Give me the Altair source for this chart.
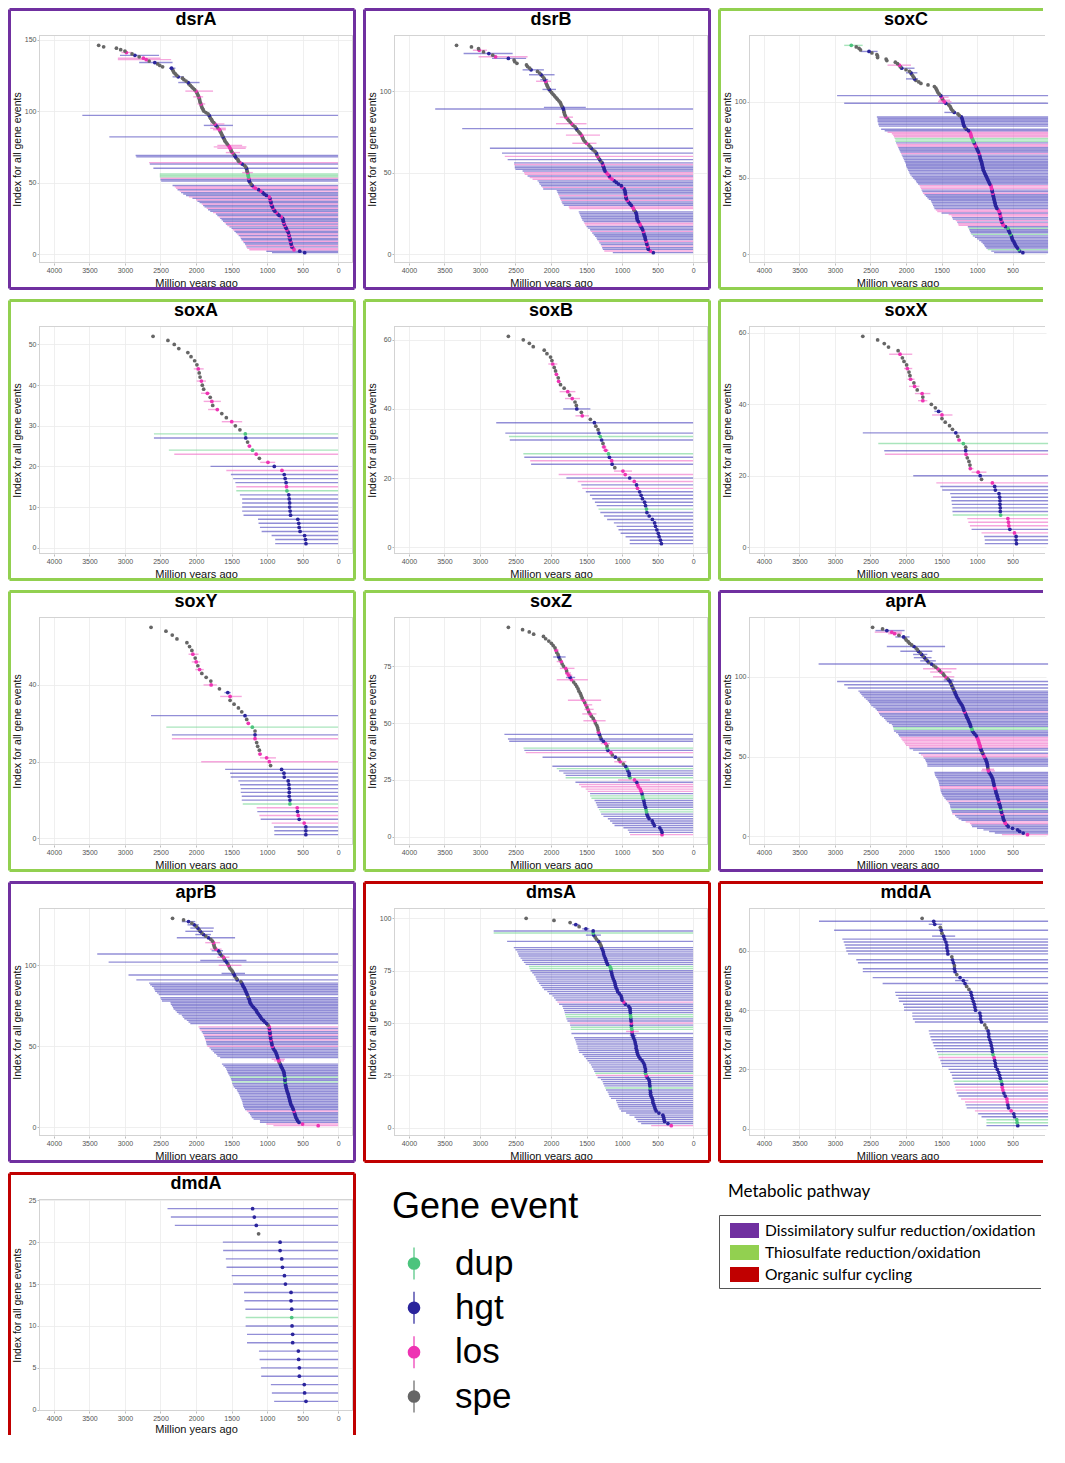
import altair as alt
import pandas as pd

FONT = "Liberation Sans"
EVENTS = ["dup", "hgt", "los", "spe"]
KIND = {"d": "dup", "h": "hgt", "l": "los", "s": "spe"}
POINT_COLORS = ["#4cc47d", "#2a249c", "#ee33b3", "#666666"]
BAR_COLORS = ["#70d48f", "#4a43bd", "#f06ac6", "#888888"]

PATHWAYS = ["Dissimilatory sulfur reduction/oxidation",
            "Thiosulfate reduction/oxidation",
            "Organic sulfur cycling"]
PATHWAY_COLORS = ["#7030a0", "#92d050", "#c00000"]

GENES = ["dsrA", "dsrB", "soxC", "soxA", "soxB", "soxX", "soxY",
         "soxZ", "aprA", "aprB", "dmsA", "mddA", "dmdA"]
GENE_PATHWAY = [0, 0, 1, 1, 1, 1, 1, 1, 0, 0, 2, 2, 2]
Y_TICKS = {"dsrA": [0, 50, 100, 150], "dsrB": [0, 50, 100], "soxC": [0, 50, 100],
           "soxA": [0, 10, 20, 30, 40, 50], "soxB": [0, 20, 40, 60], "soxX": [0, 20, 40, 60],
           "soxY": [0, 20, 40], "soxZ": [0, 25, 50, 75], "aprA": [0, 50, 100],
           "aprB": [0, 50, 100], "dmsA": [0, 25, 50, 75, 100], "mddA": [0, 20, 40, 60],
           "dmdA": [0, 5, 10, 15, 20, 25]}
X_TICKS = [0, 500, 1000, 1500, 2000, 2500, 3000, 3500, 4000]

# ---- per gene: point age (Myr), event kind, interval old bound, interval young bound (default 0)
dsrA_age = [470, 540, 620, 630, 650, 655, 660, 665, 670, 675,
            680, 685, 690, 695, 700, 710, 720, 730, 740, 750,
            760, 765, 770, 775, 780, 800, 830, 850, 870, 890,
            905, 915, 925, 935, 940, 945, 950, 955, 960, 970,
            1010, 1040, 1060, 1090, 1120, 1160, 1190, 1210, 1225, 1240,
            1250, 1255, 1258, 1262, 1265, 1268, 1275, 1280, 1285, 1290,
            1300, 1320, 1350, 1380, 1400, 1410, 1430, 1445, 1455, 1470,
            1490, 1500, 1510, 1520, 1530, 1545, 1560, 1575, 1590, 1600,
            1610, 1620, 1630, 1640, 1650, 1660, 1670, 1690, 1700, 1720,
            1735, 1750, 1770, 1780, 1795, 1805, 1815, 1830, 1860, 1890,
            1900, 1910, 1920, 1925, 1930, 1940, 1946, 1950, 1955, 1960,
            1970, 1980, 1990, 2000, 2020, 2040, 2060, 2080, 2100, 2110,
            2140, 2170, 2190, 2250, 2270, 2290, 2310, 2320, 2330, 2344,
            2470, 2510, 2540, 2580, 2660, 2700, 2740, 2800, 2860, 2900,
            2980, 3000, 3060, 3120, 3300, 3370]
dsrA_kind = ("hhllhlhhlh" "hlhlhhlhhl" "hlhhhlhhlh" "hlhhlhhlhl" "hhhlhllhss"
             "hhldddlssh" "sshlssshhs" "lsslllssss" "shssssllsh" "lssssshsss"
             "sssslssssl" "ssslsssssh" "ssshsssssh" "ssshsllshs" "lsssss")
dsrA_lo = [930, 1010, 1250, 1280, 1290, 1300, 1310, 1330, 1340, 1360,
           1370, 1380, 1400, 1420, 1440, 1460, 1480, 1500, 1530, 1560,
           1580, 1600, 1620, 1640, 1660, 1680, 1700, 1720, 1760, 1800,
           1830, 1850, 1880, 1900, 1920, 1950, 1980, 2000, 2050, 2100,
           2140, 2180, 2210, 2230, 2260, 2280, 2300, 2330, 0, 0,
           2490, 2500, 2500, 2510, 2510, 2510, 1350, 0, 0, 2600,
           0, 0, 2650, 2660, 0, 0, 0, 2840, 2850, 0,
           1580, 0, 0, 1700, 1750, 1700, 0, 0, 0, 0,
           0, 3220, 0, 0, 0, 0, 1760, 1800, 0, 1890,
           1800, 0, 0, 0, 0, 0, 3600, 0, 0, 0,
           0, 0, 0, 0, 1980, 0, 0, 0, 0, 2040,
           0, 0, 0, 2150, 0, 0, 0, 0, 0, 2250,
           0, 0, 0, 2330, 0, 0, 0, 0, 0, 2380,
           0, 0, 0, 2800, 0, 3100, 3100, 0, 3070, 0,
           3050, 0, 0, 0, 0, 0]
dsrA_hi = {57: 1200, 71: 1380, 74: 1300, 75: 1290, 76: 1350, 87: 1580, 88: 1580, 90: 1480,
           91: 1600, 105: 1870, 110: 1900, 114: 1760, 120: 1950, 124: 2170, 130: 2290,
           134: 2330, 136: 2350, 137: 2500, 139: 2520, 141: 2900}

dsrB_age = [560, 600, 630, 635, 640, 650, 655, 660, 670, 675,
            680, 690, 695, 700, 710, 720, 735, 745, 755, 770,
            785, 790, 792, 795, 800, 810, 830, 840, 850, 870,
            890, 910, 925, 940, 945, 950, 952, 955, 960, 970,
            1000, 1010, 1050, 1080, 1110, 1140, 1170, 1180, 1200, 1220,
            1240, 1250, 1255, 1265, 1270, 1280, 1300, 1315, 1330, 1345,
            1355, 1362, 1380, 1410, 1433, 1450, 1470, 1500, 1520, 1540,
            1550, 1560, 1570, 1590, 1610, 1630, 1645, 1660, 1690, 1710,
            1730, 1750, 1770, 1790, 1800, 1810, 1815, 1820, 1825, 1835,
            1850, 1860, 1870, 1890, 1910, 1930, 1950, 1970, 1990, 2010,
            2025, 2040, 2050, 2060, 2070, 2075, 2090, 2100, 2120, 2140,
            2160, 2190, 2280, 2300, 2330, 2345, 2480, 2510, 2520, 2600,
            2780, 2820, 2875, 2950, 3010, 3020, 3120, 3330]
dsrB_kind = ("hlhhlhhlhh" "hhhlhhhllh" "hhhhhhsllh" "hhlhhlhhhh" "lhhhhllhll"
             "hhhhlhshsl" "shsshsslss" "sslssshssl" "ssslsssshh" "ssssssssss"
             "hsssslhssh" "sshssssssh" "lshslsss")
dsrB_lo = [1130, 1250, 1270, 1280, 1290, 1300, 1320, 1330, 1350, 1360,
           1380, 1400, 1420, 1440, 1450, 1480, 1500, 1520, 1530, 1540,
           1560, 1570, 1580, 1590, 1600, 1610, 0, 1740, 1750, 1820,
           1840, 1850, 1860, 1870, 1880, 1890, 1900, 1910, 1920, 2110,
           2120, 2140, 2160, 2170, 2190, 2260, 2300, 2330, 2370, 2380,
           2400, 2500, 2510, 2510, 2520, 2520, 0, 2610, 0, 2650,
           0, 2690, 0, 0, 2860, 0, 0, 1700, 0, 0,
           0, 0, 1790, 0, 0, 0, 3250, 0, 0, 1930,
           0, 0, 0, 1880, 0, 0, 0, 0, 3630, 2100,
           0, 0, 0, 0, 0, 0, 0, 0, 0, 0,
           2120, 0, 0, 0, 0, 2210, 2150, 0, 0, 2310,
           0, 0, 2400, 0, 0, 0, 0, 0, 0, 2830,
           3020, 0, 3230, 0, 3100, 0, 0, 0]
dsrB_hi = {68: 1360, 73: 1310, 80: 1500, 84: 1690, 90: 1510, 101: 1930, 106: 2000, 107: 2040,
           110: 1950, 113: 2100, 120: 2350, 121: 2330, 123: 2540, 125: 2900}

soxC_age = [355, 400, 414, 430, 447, 460, 470, 480, 495, 505,
            510, 518, 530, 540, 550, 560, 565, 600, 630, 640,
            650, 660, 665, 668, 670, 675, 680, 690, 700, 720,
            730, 740, 745, 750, 755, 760, 765, 770, 775, 780,
            785, 790, 795, 800, 805, 820, 830, 840, 850, 860,
            870, 880, 890, 900, 910, 915, 920, 925, 930, 935,
            940, 950, 955, 960, 965, 970, 980, 990, 1000, 1010,
            1020, 1030, 1040, 1050, 1060, 1070, 1080, 1085, 1090, 1100,
            1120, 1150, 1170, 1180, 1190, 1195, 1200, 1205, 1210, 1220,
            1250, 1270, 1320, 1340, 1360, 1370, 1380, 1400, 1440, 1460,
            1475, 1490, 1500, 1510, 1530, 1550, 1560, 1570, 1580, 1600,
            1690, 1790, 1820, 1860, 1880, 1890, 1905, 1920, 1930, 1950,
            2000, 2060, 2080, 2094, 2120, 2150, 2270, 2280, 2400, 2400,
            2410, 2480, 2520, 2640, 2660, 2700, 2770]
soxC_kind = ("hhdhhhhhhh" "hhdhhhdhll" "hlhhllhllh" "hhhhhhhhhl" "hhlllhhhhh"
             "hhhhhhhhhh" "hhhhhlhhhh" "llhdddllll" "hhshhhhhhh" "sshssssshl"
             "lslhssssss" "sssshssshs" "shslssssss" "sshsssd")
soxC_lo = [760, 800, 850, 870, 890, 900, 920, 940, 970, 1000,
           1030, 1060, 1080, 1090, 1100, 1110, 1120, 1130, 1260, 1270,
           1280, 1300, 1340, 1350, 1360, 1400, 1500, 1560, 1580, 1600,
           1610, 1620, 1630, 1640, 1650, 1680, 1700, 1720, 1740, 1760,
           1770, 1780, 1790, 1800, 1810, 1830, 1850, 1860, 1880, 1900,
           1920, 1940, 1950, 1960, 1970, 1980, 1990, 2000, 2000, 2010,
           2020, 2030, 2040, 2050, 2060, 2070, 2080, 2090, 2100, 2110,
           2120, 2130, 2140, 2150, 2150, 2160, 2170, 2180, 2200, 2260,
           2300, 2350, 0, 2380, 2390, 2390, 2400, 2400, 2400, 2410,
           0, 0, 1460, 0, 0, 0, 0, 0, 2870, 1550,
           1540, 0, 1530, 2970, 0, 0, 0, 0, 0, 0,
           0, 0, 0, 0, 2000, 0, 0, 0, 2000, 0,
           0, 2070, 0, 2260, 0, 0, 0, 0, 0, 0,
           0, 0, 2640, 0, 0, 0, 2870]
soxC_hi = {93: 1290, 100: 1360, 101: 1380, 103: 1400, 115: 1830, 119: 1840, 122: 1880,
           124: 1930, 133: 2400, 137: 2610}

soxA_age = [452, 458, 471, 535, 548, 554, 567, 669, 675, 682,
            682, 688, 694, 720, 726, 732, 745, 758, 790, 898,
            987, 1108, 1153, 1204, 1248, 1274, 1300, 1306, 1382, 1446,
            1497, 1573, 1637, 1700, 1765, 1777, 1800, 1840, 1892, 1911,
            1924, 1943, 1955, 1968, 1987, 2019, 2070, 2115, 2242, 2306,
            2395, 2605]
soxA_kind = "hhhhhhhhhh" "hhhdlhhhlh" "lsldlshdss" "lsslslslss" "lssl" "ssssssss"
soxA_lo = [885, 885, 936, 1076, 1100, 1120, 1127, 1331, 1350, 1350,
           1350, 1350, 1382, 1433, 1433, 1446, 1477, 1509, 1573, 1796,
           1096, 0, 2306, 2382, 1280, 0, 2592, 2592, 0, 0,
           1637, 0, 0, 1830, 0, 1892, 0, 1930, 0, 0,
           1990, 0, 0, 2032, 0, 0, 0, 0, 0, 0,
           0, 0]
soxA_hi = {21: 885, 25: 1220, 31: 1350, 34: 1680, 36: 1650, 38: 1800, 41: 1860, 44: 1892}

soxB_age = [446, 459, 478, 490, 510, 529, 541, 573, 618, 650,
            656, 669, 682, 713, 732, 752, 783, 796, 828, 892,
            955, 987, 1102, 1140, 1146, 1178, 1191, 1229, 1255, 1268,
            1287, 1306, 1325, 1338, 1369, 1389, 1446, 1560, 1573, 1637,
            1643, 1662, 1701, 1739, 1764, 1815, 1866, 1892, 1898, 1924,
            1936, 1955, 1975, 1987, 2006, 2057, 2095, 2250, 2305, 2390,
            2600]
soxB_kind = "hhhhhhhhhh" "dhhhhhlhlh" "llshlhdlls" "hdhsshslsh" "sslslsslsl" "sslssssssss"
soxB_lo = [892, 892, 950, 1020, 1050, 1076, 1115, 1210, 1255, 1306,
           1331, 1357, 1382, 1420, 1452, 1510, 1560, 1573, 1624, 1783,
           1892, 1114, 0, 2280, 2293, 2376, 2389, 1270, 1290, 0,
           2580, 2592, 2643, 0, 0, 2771, 0, 1656, 0, 1828,
           0, 0, 1803, 0, 1879, 0, 0, 1910, 0, 1940,
           0, 0, 2038, 0, 0, 0, 0, 0, 0, 0,
           0]
soxB_hi = {22: 860, 28: 1190, 29: 1220, 38: 1465, 40: 1446, 43: 1592, 45: 1656, 48: 1870,
           50: 1900, 53: 1911}

soxX_age = [445, 450, 450, 473, 538, 552, 557, 566, 668, 673,
            673, 677, 677, 682, 691, 742, 752, 784, 937, 956,
            984, 1095, 1100, 1114, 1137, 1155, 1160, 1160, 1193, 1253,
            1271, 1299, 1346, 1387, 1448, 1494, 1494, 1541, 1587, 1643,
            1763, 1763, 1773, 1842, 1879, 1889, 1935, 1944, 1958, 1981,
            1991, 2028, 2051, 2084, 2111, 2246, 2306, 2399, 2608]
soxX_kind = "hhhlhllldh" "hhhhhhhlsh" "llssslhsdl" "shsssslhss" "lslslslssl" "ssslsssss"
soxX_lo = [891, 891, 900, 937, 1077, 1100, 1123, 1137, 1341, 1346,
           1346, 1355, 1360, 1364, 1378, 1490, 1517, 1573, 0, 1898,
           1077, 1110, 0, 0, 0, 2297, 2306, 0, 2390, 1280,
           0, 2608, 0, 0, 0, 0, 1633, 1600, 0, 0,
           1830, 0, 1875, 0, 1958, 0, 1980, 0, 0, 2028,
           0, 0, 0, 2237, 0, 0, 0, 0, 0]
soxX_hi = {21: 868, 22: 1050, 30: 1230, 37: 1346, 38: 1490, 41: 1700, 43: 1657, 45: 1810,
           47: 1880, 50: 1912, 54: 1912}

soxY_age = [454, 454, 454, 477, 547, 561, 571, 575, 678, 678,
            688, 688, 688, 692, 702, 758, 762, 795, 950, 968,
            1006, 1099, 1108, 1132, 1146, 1169, 1169, 1169, 1207, 1263,
            1286, 1310, 1356, 1403, 1464, 1520, 1520, 1553, 1670, 1787,
            1791, 1857, 1918, 1950, 1974, 1997, 2011, 2044, 2058, 2091,
            2128, 2268, 2334, 2423, 2633]
soxY_kind = "hhhlhlhldh" "hhhhhhhhsl" "llssslhsdl" "shsssslhsl" "ssslslslss" "sssss"
soxY_lo = [898, 898, 903, 935, 1090, 1108, 1137, 1146, 1342, 1356,
           1356, 1370, 1370, 1380, 1403, 1511, 1520, 1590, 0, 1927,
           1099, 1130, 0, 0, 0, 2339, 2339, 0, 2418, 1290,
           0, 2633, 0, 0, 0, 0, 1660, 1600, 0, 1894,
           0, 0, 0, 2010, 0, 2060, 0, 2105, 0, 0,
           0, 0, 0, 0, 0]
soxY_hi = {21: 875, 22: 1070, 30: 1240, 37: 1356, 38: 1510, 40: 1707, 44: 1890, 46: 1940,
           48: 1964}

soxZ_age = [437, 437, 450, 469, 544, 562, 575, 619, 637, 650,
            656, 662, 669, 681, 687, 694, 706, 712, 719, 731,
            744, 769, 781, 794, 825, 887, 900, 900, 919, 931,
            950, 981, 1025, 1044, 1094, 1137, 1156, 1200, 1212, 1212,
            1231, 1262, 1294, 1306, 1319, 1331, 1337, 1344, 1356, 1375,
            1387, 1406, 1431, 1450, 1469, 1481, 1494, 1512, 1525, 1544,
            1562, 1575, 1587, 1606, 1619, 1637, 1656, 1681, 1712, 1731,
            1750, 1775, 1781, 1794, 1825, 1844, 1856, 1875, 1890, 1900,
            1919, 1931, 1944, 1969, 1994, 2031, 2075, 2106, 2244, 2306,
            2400, 2600]
soxZ_kind = ("lhhhhhhhhh" "ddhhhhddhl" "lllhldhhhd" "hslshslhds" "lhhshlssss"
             "lsslslslsl" "sssssssslh" "llslsslshs" "slssssssssss")
soxZ_lo = [887, 900, 919, 981, 1106, 1137, 1169, 1200, 1262, 1294,
           1306, 1325, 1344, 1356, 1369, 1387, 1431, 1450, 1450, 1481,
           1512, 1575, 1606, 1656, 1056, 1794, 1794, 1825, 1887, 1919,
           1981, 0, 1110, 0, 2119, 0, 2356, 2375, 2387, 0,
           1300, 2588, 2606, 0, 2656, 1360, 0, 0, 0, 0,
           1544, 0, 0, 1560, 0, 1530, 0, 1520, 0, 1762,
           0, 0, 0, 0, 0, 0, 0, 0, 1919, 1790,
           1780, 1800, 0, 1875, 0, 0, 1920, 0, 1969, 0,
           0, 1960, 0, 0, 0, 0, 0, 0, 0, 0,
           0, 0]
soxZ_hi = {25: 606, 33: 940, 41: 1170, 46: 1300, 51: 1231, 54: 1360, 56: 1400, 58: 1420,
           60: 1294, 69: 1481, 70: 1660, 71: 1700, 72: 1720, 74: 1669, 77: 1830, 79: 1794,
           82: 1890}

aprA_age = [290, 350, 400, 430, 500, 560, 580, 600, 610, 620,
            630, 635, 640, 650, 655, 660, 665, 670, 675, 685,
            690, 695, 700, 710, 715, 720, 730, 735, 740, 748,
            755, 760, 765, 770, 775, 780, 790, 800, 815, 830,
            840, 843, 848, 852, 855, 860, 868, 875, 890, 900,
            910, 920, 930, 940, 950, 955, 960, 970, 975, 982,
            990, 1000, 1010, 1030, 1050, 1065, 1070, 1080, 1090, 1096,
            1105, 1115, 1125, 1135, 1147, 1155, 1165, 1175, 1185, 1191,
            1200, 1210, 1225, 1240, 1255, 1265, 1280, 1290, 1300, 1310,
            1318, 1330, 1340, 1350, 1360, 1370, 1380, 1400, 1420, 1445,
            1465, 1480, 1508, 1530, 1553, 1580, 1610, 1640, 1680, 1700,
            1720, 1740, 1760, 1780, 1800, 1825, 1840, 1860, 1888, 1920,
            1950, 1970, 1996, 2010, 2034, 2100, 2160, 2200, 2270, 2330,
            2470]
aprA_kind = ("lhhhhhhllh" "hhhlhhdhhh" "hlhhhhhhhl" "lhhhhhhhhh" "llshhhhhhl"
             "lhshhlllll" "llhhhhddhh" "hhhhhhhlhh" "hhhhhhhhhh" "hshshshhsl"
             "sslslsshsh" "shshshsshs" "sssshsllhss")
aprA_lo = [650, 750, 830, 910, 1000, 1070, 1080, 1100, 1160, 1220,
           1260, 1290, 1310, 1350, 1350, 1360, 1370, 1375, 1380, 1385,
           1400, 1420, 1440, 1460, 1475, 1490, 1500, 1510, 1515, 1520,
           1525, 1530, 1535, 1540, 1545, 1560, 1575, 1590, 1595, 1600,
           940, 930, 0, 1700, 1700, 1710, 1720, 1730, 1750, 1760,
           1790, 1820, 0, 1900, 1950, 1960, 2000, 2015, 2030, 2050,
           2065, 2080, 2100, 2110, 2140, 2170, 2175, 2180, 2185, 2200,
           2240, 2270, 2290, 2310, 2340, 2365, 2380, 2395, 2410, 2430,
           2460, 2490, 2505, 2520, 2540, 2565, 2590, 2615, 2630, 2650,
           2670, 0, 2820, 0, 2870, 0, 2970, 1470, 0, 1620,
           0, 0, 1660, 0, 1760, 0, 0, 3230, 0, 1800,
           0, 1890, 0, 1900, 0, 2080, 0, 0, 2270, 0,
           0, 0, 0, 0, 2150, 0, 2250, 2440, 2430, 0,
           0]
aprA_hi = {41: 750, 42: 760, 98: 1330, 100: 1320, 103: 1360, 105: 1290, 110: 1580, 112: 1640,
           114: 1700, 116: 1630, 119: 1450, 125: 1950, 127: 2060, 128: 2060, 129: 2020}

aprB_age = [280, 500, 550, 570, 580, 594, 600, 608, 615, 620,
            631, 640, 650, 664, 670, 676, 682, 688, 695, 700,
            706, 716, 722, 728, 734, 739, 742, 745, 747, 748,
            750, 755, 760, 762, 772, 783, 795, 805, 815, 828,
            835, 842, 850, 858, 865, 875, 885, 903, 915, 925,
            930, 935, 940, 945, 950, 952, 955, 959, 962, 965,
            967, 968, 985, 1006, 1030, 1050, 1076, 1090, 1105, 1123,
            1140, 1150, 1169, 1190, 1210, 1225, 1240, 1245, 1250, 1263,
            1270, 1280, 1290, 1300, 1310, 1320, 1335, 1345, 1356, 1370,
            1420, 1430, 1450, 1460, 1473, 1483, 1497, 1520, 1530, 1543,
            1553, 1570, 1590, 1604, 1614, 1640, 1660, 1670, 1684, 1720,
            1735, 1745, 1750, 1754, 1768, 1791, 1824, 1861, 1894, 1918,
            1941, 1955, 1974, 1997, 2025, 2058, 2105, 2175, 2330]
aprB_kind = ("llhhhhhhhl" "hhhhhhhhhh" "hhhhhhhdhh" "dhhhhhhhhs" "llhhhhhhhl"
             "hhhlhhlhhl" "hlshhhhhhh" "hhhhhhhhhh" "shhhhhhhhs" "hsshhssssl"
             "shhslshshl" "ssslsshshs" "hshshshss")
aprB_lo = [910, 1010, 1100, 1100, 1190, 1215, 1230, 1240, 1260, 1285,
           1310, 1325, 1335, 1340, 1345, 1350, 1360, 1370, 1380, 1390,
           1400, 1415, 1425, 1450, 1470, 1480, 1490, 1495, 1500, 1510,
           1520, 1530, 1545, 1555, 1565, 1575, 1590, 1615, 1635, 0,
           900, 935, 1660, 1700, 1715, 1745, 1765, 1790, 1810, 1840,
           1850, 1855, 1860, 1870, 1875, 1885, 1895, 1905, 1920, 1940,
           1950, 1965, 0, 2080, 2105, 2130, 2165, 2185, 2200, 2245,
           2270, 2290, 2315, 2325, 2340, 2355, 2360, 2480, 2490, 2500,
           0, 2525, 2550, 2575, 2585, 2595, 2620, 2645, 2660, 0,
           2840, 0, 0, 2950, 1640, 0, 0, 0, 0, 1680,
           0, 3230, 1940, 0, 1700, 0, 3390, 0, 1780, 1800,
           0, 0, 0, 1870, 0, 0, 2270, 0, 2010, 0,
           2150, 0, 2080, 0, 2120, 0, 2200, 0, 0]
aprB_hi = {41: 760, 42: 750, 95: 1310, 100: 1360, 103: 1290, 105: 1530, 109: 1620, 110: 1640,
           114: 1660, 117: 1450, 119: 1790, 121: 1760, 123: 1750, 125: 1960, 127: 2010}

dmsA_age = [307, 354, 401, 410, 415, 425, 481, 519, 533, 542,
            552, 566, 566, 575, 590, 599, 599, 604, 604, 608,
            613, 613, 623, 646, 660, 670, 670, 670, 679, 684,
            698, 717, 745, 764, 778, 788, 792, 802, 802, 811,
            816, 825, 840, 849, 858, 858, 863, 868, 868, 868,
            873, 877, 877, 882, 882, 887, 887, 906, 953, 976,
            1000, 1005, 1014, 1038, 1061, 1070, 1085, 1094, 1099, 1108,
            1123, 1132, 1141, 1146, 1156, 1156, 1170, 1203, 1217, 1226,
            1236, 1250, 1259, 1264, 1274, 1288, 1297, 1311, 1330, 1358,
            1377, 1400, 1406, 1406, 1509, 1604, 1651, 1731, 1958, 2350]
dmsA_kind = ("lhhhhhhhhh" "hhhhhhhhdh" "hhhhldhhhh" "hhhhhhhhhh" "hhhhhlddhl"
             "hhddhhhhhl" "hhhhhhhhhh" "hhhhhddhhh" "hhhhhhsshs" "shdhhshsss")
dmsA_lo = [590, 731, 778, 802, 825, 896, 943, 1014, 1038, 1052,
           1061, 1075, 1085, 1156, 1179, 1189, 1203, 1226, 1236, 1250,
           1264, 1274, 1297, 1344, 1368, 1377, 1392, 1406, 1425, 1439,
           1462, 1486, 1509, 1533, 1557, 1604, 1613, 1627, 1627, 1642,
           1651, 1660, 1675, 890, 1712, 943, 1722, 1722, 1731, 1736,
           1769, 1783, 1792, 1802, 1807, 1816, 1830, 1840, 1887, 1910,
           1934, 1958, 1981, 2028, 2052, 2099, 2123, 2146, 2170, 2193,
           2208, 2217, 2241, 2264, 2288, 2302, 2311, 2358, 2382, 2406,
           2429, 2453, 2462, 2476, 2500, 2524, 0, 0, 2618, 0,
           0, 1509, 2807, 2807, 1560, 0, 1700, 0, 0, 0]
dmsA_hi = {44: 800, 46: 764, 92: 1297, 95: 1460, 97: 1600}

mddA_age = [427, 436, 441, 473, 483, 520, 557, 566, 575, 580,
            603, 622, 636, 645, 650, 659, 673, 682, 696, 715,
            738, 742, 752, 761, 775, 784, 789, 798, 807, 821,
            835, 835, 845, 868, 891, 937, 951, 951, 961, 1021,
            1030, 1039, 1053, 1067, 1077, 1086, 1114, 1146, 1169, 1193,
            1239, 1285, 1309, 1318, 1318, 1332, 1346, 1355, 1410, 1415,
            1425, 1425, 1438, 1457, 1471, 1494, 1503, 1517, 1596, 1610,
            1773]
mddA_kind = ("hddhhlhhll" "hhllhdhhhh" "hhhldhhhhh" "hhhsshhhhh" "hhhhhhsshh"
             "hshhshhshh" "hhhhhshshhs")
mddA_lo = [868, 868, 868, 937, 984, 1030, 1146, 1160, 1169, 1225,
           1262, 1285, 1299, 1309, 1318, 1332, 1346, 1355, 1378, 1401,
           1494, 1503, 1517, 1541, 1550, 1564, 1587, 1610, 1624, 1643,
           1657, 1671, 1680, 0, 0, 1875, 1903, 1912, 1912, 2028,
           2028, 2042, 2097, 2107, 2144, 2153, 0, 0, 2329, 1309,
           2469, 0, 2608, 2608, 0, 2677, 2700, 0, 2817, 2840,
           2849, 2863, 2877, 2896, 1633, 0, 3012, 0, 1680, 3225,
           0]
mddA_hi = {50: 1123, 65: 1308, 69: 1494}

dmdA_age = [452, 471, 476, 545, 545, 555, 559, 639, 639, 648,
            653, 653, 662, 662, 741, 755, 783, 793, 816, 816,
            1119, 1151, 1179, 1203]
dmdA_kind = "hhhhhhhhhh" "dhhhhhhhhh" "shhh"
dmdA_lo = [900, 932, 946, 1082, 1086, 1105, 1114, 1282, 1282, 1301,
           1301, 1305, 1319, 1324, 1478, 1497, 1571, 1580, 1618, 1622,
           0, 2298, 2354, 2401]
dmdA_hi = {}

GENE_DATA = {
    "dsrA": (dsrA_age, dsrA_kind, dsrA_lo, dsrA_hi),
    "dsrB": (dsrB_age, dsrB_kind, dsrB_lo, dsrB_hi),
    "soxC": (soxC_age, soxC_kind, soxC_lo, soxC_hi),
    "soxA": (soxA_age, soxA_kind, soxA_lo, soxA_hi),
    "soxB": (soxB_age, soxB_kind, soxB_lo, soxB_hi),
    "soxX": (soxX_age, soxX_kind, soxX_lo, soxX_hi),
    "soxY": (soxY_age, soxY_kind, soxY_lo, soxY_hi),
    "soxZ": (soxZ_age, soxZ_kind, soxZ_lo, soxZ_hi),
    "aprA": (aprA_age, aprA_kind, aprA_lo, aprA_hi),
    "aprB": (aprB_age, aprB_kind, aprB_lo, aprB_hi),
    "dmsA": (dmsA_age, dmsA_kind, dmsA_lo, dmsA_hi),
    "mddA": (mddA_age, mddA_kind, mddA_lo, mddA_hi),
    "dmdA": (dmdA_age, dmdA_kind, dmdA_lo, dmdA_hi),
}

W, H = 314, 228          # plot area of a full panel
W3 = 297                 # third column is cut by the page edge
H5 = 212                 # last row is cut by the page bottom
PX_PER_MYR = W / 4420.0
HSPACE, VSPACE = 7, 9    # Vega pads rule bounds by the full stroke width


def frame(age, kind, lo, hi):
    rows = []
    for i, a in enumerate(age):
        k = kind[i] if i < len(kind) else "s"
        l = lo[i] if i < len(lo) else 0
        rows.append({"idx": i + 1, "age": a, "event": KIND[k], "lo": l, "hi": hi.get(i + 1, 0)})
    return pd.DataFrame(rows)


def hline(d, color, width, x0, x1, y):
    return alt.Chart(d).mark_rule(color=color, strokeWidth=width).encode(
        x=alt.value(x0), x2=alt.value(x1), y=alt.value(y))


def vline(d, color, width, x, y0, y1):
    return alt.Chart(d).mark_rule(color=color, strokeWidth=width).encode(
        x=alt.value(x), y=alt.value(y0), y2=alt.value(y1))


def panel(gene, pw, col, last_row):
    df = frame(*GENE_DATA[gene])
    n = len(df)
    pad = 0.05 * (n - 1)
    w = W3 if col == 2 else W
    h = H5 if last_row else H
    x_lo = 4210 - w / PX_PER_MYR
    xs = alt.Scale(domain=[x_lo, 4210], reverse=True, nice=False, zero=False)
    ys = alt.Scale(domain=[1 - pad, n + pad], nice=False, zero=False)
    t_y = 18 if last_row else 20
    xa = alt.Axis(values=X_TICKS, title="Million years ago", format="d", labelFlush=False,
                  labelFontSize=7, labelPadding=1, titleFontSize=11, titleFontWeight="normal",
                  titleY=t_y, titleBaseline="middle")
    ya = alt.Axis(values=Y_TICKS[gene], title="Index for all gene events", format="d",
                  labelFontSize=7, labelPadding=1, titleFontSize=10.5, titleFontWeight="normal",
                  titleX=-22, titleY=h / 2, titleAngle=270, titleAlign="center",
                  titleBaseline="middle")
    bars = alt.Chart(df[df["lo"] > 0]).mark_rule(strokeWidth=1.4, opacity=0.6).encode(
        x=alt.X("lo:Q", scale=xs, axis=xa),
        x2="hi:Q",
        y=alt.Y("idx:Q", scale=ys, axis=ya),
        stroke=alt.Stroke("event:N", scale=alt.Scale(domain=EVENTS, range=BAR_COLORS), legend=None),
    )
    pts = alt.Chart(df).mark_circle(size=14, opacity=1).encode(
        x=alt.X("age:Q", scale=xs, axis=xa),
        y=alt.Y("idx:Q", scale=ys, axis=ya),
        fill=alt.Fill("event:N", scale=alt.Scale(domain=EVENTS, range=POINT_COLORS), legend=None),
    )
    one = pd.DataFrame({"gene": [gene]})
    c = PATHWAY_COLORS[pw]
    layers = [bars, pts]
    # light grey plot frame (right side lies beyond the page edge in the third column)
    g = "#d3d3d3"
    gx1 = w - 1 if col == 2 else w
    layers += [hline(one, g, 1, 0, gx1, 0.5),
               hline(one, g, 1, 0, gx1, h - 0.5),
               vline(one, g, 1, 0.5, 0, h)]
    if col != 2:
        layers.append(vline(one, g, 1, w - 0.5, 0, h))
    # coloured outer frame
    top = -25.5
    bot = h + 25.5
    rx1 = w - 3 if col == 2 else w + 1.5
    layers.append(hline(one, c, 3, -29.5, rx1, top))
    if last_row:
        y_end = h + 24
    else:
        y_end = bot
        layers.append(hline(one, c, 3, -29.5, rx1, bot))
    layers.append(vline(one, c, 3, -29.5, top, y_end))
    if col != 2:
        layers.append(vline(one, c, 3, w + 1.5, top, y_end))
    layers.append(alt.Chart(one).mark_text(fontSize=18, fontWeight="bold", font=FONT,
                                           align="center", baseline="middle").encode(
        text="gene:N", x=alt.value(W / 2), y=alt.value(-15)))
    return alt.layer(*layers).properties(width=w, height=h,
                                         view=alt.ViewBackground(strokeOpacity=0))


panels = [panel(gname, p, i % 3, i == 12) for i, (gname, p) in enumerate(zip(GENES, GENE_PATHWAY))]

# ---- legends (their origin is aligned with the plot top of the dmdA panel)
ev_df = pd.DataFrame({"event": EVENTS})
ev_y = alt.Y("event:N", scale=alt.Scale(type="point", domain=EVENTS, range=[64.5, 197.5], padding=0), axis=None)
ev_col = alt.Color("event:N", scale=alt.Scale(domain=EVENTS, range=POINT_COLORS), legend=None)
gene_leg = alt.layer(
    alt.Chart(pd.DataFrame({"t": ["Gene event"]})).mark_text(
        fontSize=36, font=FONT, align="left", baseline="middle").encode(
        text="t:N", x=alt.value(29), y=alt.value(8)),
    alt.Chart(ev_df).mark_tick(orient="vertical", size=32, thickness=1.5, opacity=0.8).encode(
        x=alt.value(51), y=ev_y, color=ev_col),
    alt.Chart(ev_df).mark_circle(size=160, opacity=1).encode(
        x=alt.value(51), y=ev_y, color=ev_col),
    alt.Chart(ev_df).mark_text(fontSize=35, font=FONT, align="left", baseline="middle").encode(
        x=alt.value(92), y=ev_y, text="event:N"),
).properties(width=348, height=212, view=alt.ViewBackground(strokeOpacity=0))

pw_df = pd.DataFrame({"pathway": PATHWAYS, "swatch": PATHWAY_COLORS})
pw_y = alt.Y("pathway:N", scale=alt.Scale(type="point", domain=PATHWAYS, range=[31.5, 75.5], padding=0), axis=None)
box_d = pd.DataFrame({"t": ["box"]})
PW_W = 324
path_leg = alt.layer(
    alt.Chart(pd.DataFrame({"t": ["Metabolic pathway"]})).mark_text(
        fontSize=17, font="Lato", align="left", baseline="middle").encode(
        text="t:N", x=alt.value(10), y=alt.value(-7)),
    hline(box_d, "#555555", 1, 1.5, PW_W - 1, 16.5),
    hline(box_d, "#555555", 1, 1.5, PW_W - 1, 89.5),
    vline(box_d, "#555555", 1, 1.5, 16.5, 89.5),
    alt.Chart(pw_df).mark_tick(orient="horizontal", size=29, thickness=15, opacity=1).encode(
        x=alt.value(26.5), y=pw_y, color=alt.Color("swatch:N", scale=None, legend=None)),
    alt.Chart(pw_df).mark_text(fontSize=15.6, font="Lato", align="left", baseline="middle").encode(
        x=alt.value(47), y=pw_y, text="pathway:N"),
).properties(width=PW_W, height=212, view=alt.ViewBackground(strokeOpacity=0))

rows = [
    alt.hconcat(panels[0], panels[1], panels[2], spacing=HSPACE),
    alt.hconcat(panels[3], panels[4], panels[5], spacing=HSPACE),
    alt.hconcat(panels[6], panels[7], panels[8], spacing=HSPACE),
    alt.hconcat(panels[9], panels[10], panels[11], spacing=HSPACE),
    alt.hconcat(panels[12], gene_leg, path_leg, spacing=HSPACE),
]

chart = alt.vconcat(*rows, spacing=VSPACE).properties(padding=0).configure_view(
    strokeOpacity=0
).configure_axis(
    labelFont=FONT, titleFont=FONT, labelColor="#555555", titleColor="#111111",
    gridColor="#ebebeb", gridWidth=0.8, domain=False, tickColor="#bbbbbb", tickSize=2
)

chart.save("out.html", embed_options={"renderer": "svg", "actions": False})
